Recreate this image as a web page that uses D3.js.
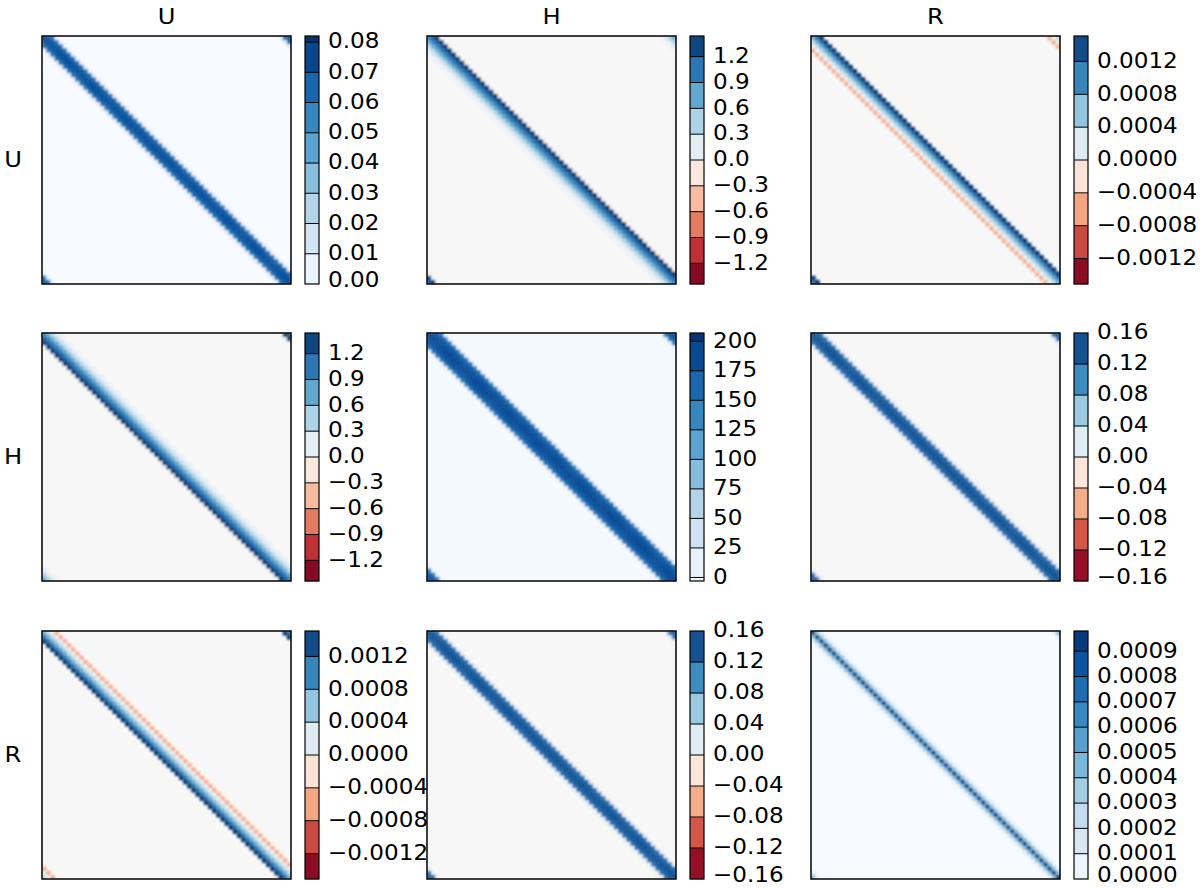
<!DOCTYPE html>
<html>
<head>
<meta charset="utf-8">
<script src="https://cdn.jsdelivr.net/npm/d3@7"></script>
<style>
  body { margin: 0; background: #fff; }
  text { font-family: "DejaVu Sans", sans-serif; fill: #000; }
</style>
</head>
<body>
<svg id="chart" width="1200" height="888"></svg>
<script>
// state variables and matrix size (periodic grid)
var names = ["U", "H", "R"];
var n = 60;

// band profiles: value at offset d = col - row
var offsets = [-4, -3, -2, -1, 0, 1, 2, 3, 4];
var uuBand = [0, 0.006, 0.062, 0.068, 0.073, 0.068, 0.062, 0.006, 0];
var uhBand = [0.05, 0.18, 0.42, 0.72, 0.98, 1.2, 1.42, 0.02, 0];
var urBand = [0, -0.00055, 0.00008, 0.0004, 0.00075, 0.00112, 0.00148, 0, 0];
var huBand = [0, 0.02, 1.42, 1.2, 0.98, 0.72, 0.42, 0.18, 0.05];
var hhBand = [6, 150, 172, 180, 186, 180, 172, 150, 6];
var hrBand = [0, 0.01, 0.12, 0.133, 0.14, 0.133, 0.12, 0.01, 0];
var ruBand = [0, 0, 0.00148, 0.00112, 0.00075, 0.0004, 0.00008, -0.00055, 0];
var rhBand = [0, 0.01, 0.12, 0.133, 0.14, 0.133, 0.12, 0.01, 0];
var rrBand = [0, 0, 0.00008, 0.0004, 0.00092, 0.0004, 0.00008, 0, 0];

// colour limits
var uuRange = [0, 0.082];
var uhRange = [-1.44, 1.44];
var urRange = [-0.00151, 0.00151];
var hhRange = [-3, 207];
var hrRange = [-0.16, 0.16];
var rrRange = [0, 0.00098];

// colorbar ticks
var uuTicks = [0, 0.01, 0.02, 0.03, 0.04, 0.05, 0.06, 0.07, 0.08];
var uhTicks = [-1.2, -0.9, -0.6, -0.3, 0, 0.3, 0.6, 0.9, 1.2];
var urTicks = [-0.0012, -0.0008, -0.0004, 0, 0.0004, 0.0008, 0.0012];
var hhTicks = [0, 25, 50, 75, 100, 125, 150, 175, 200];
var hrTicks = [-0.16, -0.12, -0.08, -0.04, 0, 0.04, 0.08, 0.12, 0.16];
var rrTicks = [0, 0.0001, 0.0002, 0.0003, 0.0004, 0.0005, 0.0006, 0.0007, 0.0008, 0.0009];

// matplotlib style colormaps (linear between the brewer colours)
var blues = d3.piecewise(d3.interpolateRgb, ["#f7fbff", "#deebf7", "#c6dbef", "#9ecae1",
  "#6baed6", "#4292c6", "#2171b5", "#08519c", "#08306b"]);
var rdbu = d3.piecewise(d3.interpolateRgb, ["#67001f", "#b2182b", "#d6604d", "#f4a582",
  "#fddbc7", "#f7f7f7", "#d1e5f0", "#92c5de", "#4393c3", "#2166ac", "#053061"]);

var panels = [
  [
    {band: uuBand, range: uuRange, ticks: uuTicks, fmt: ".2f", cmap: blues},
    {band: uhBand, range: uhRange, ticks: uhTicks, fmt: ".1f", cmap: rdbu},
    {band: urBand, range: urRange, ticks: urTicks, fmt: ".4f", cmap: rdbu}
  ],
  [
    {band: huBand, range: uhRange, ticks: uhTicks, fmt: ".1f", cmap: rdbu},
    {band: hhBand, range: hhRange, ticks: hhTicks, fmt: "d", cmap: blues},
    {band: hrBand, range: hrRange, ticks: hrTicks, fmt: ".2f", cmap: rdbu}
  ],
  [
    {band: ruBand, range: urRange, ticks: urTicks, fmt: ".4f", cmap: rdbu},
    {band: rhBand, range: hrRange, ticks: hrTicks, fmt: ".2f", cmap: rdbu},
    {band: rrBand, range: rrRange, ticks: rrTicks, fmt: ".4f", cmap: blues}
  ]
];

var svg = d3.select("#chart");
var colX = [42, 427, 811];
var rowY = [36, 333, 631];
var boxW = 249, boxH = 248;
var cbW = 14, cbGap = 14;
var sx = 1.1; // text looks a bit wide in the reference

var defs = svg.append("defs");
defs.append("filter").attr("id", "soft")
  .attr("x", "-5%").attr("y", "-5%").attr("width", "110%").attr("height", "110%")
  .append("feGaussianBlur").attr("stdDeviation", 0.9);

// matrix cells from a band profile, wrapped for the periodic grid
function cells(band) {
  var out = [];
  for (var i = 0; i < n; i++) {
    for (var j = 0; j < n; j++) {
      var d = ((j - i + n / 2) % n + n) % n - n / 2;
      var k = offsets.indexOf(d);
      out.push({row: i, col: j, v: k < 0 ? 0 : band[k]});
    }
  }
  return out;
}

function label(g, x, y, str, anchor, size) {
  g.append("text")
    .attr("transform", "translate(" + x + "," + y + ") scale(" + sx + ",1)")
    .attr("text-anchor", anchor)
    .attr("dy", "0.3em")
    .style("font-size", size + "px")
    .text(str);
}

names.forEach(function(name, c) {
  label(svg, colX[c] + boxW / 2, 17, name, "middle", 22);
});
names.forEach(function(name, r) {
  label(svg, 13, rowY[r] + boxH / 2, name, "middle", 22);
});

panels.forEach(function(row, r) {
  row.forEach(function(p, c) {
    var bx = colX[c], by = rowY[r];
    var g = svg.append("g");
    var clipId = "clip" + r + c;

    defs.append("clipPath").attr("id", clipId)
      .append("rect").attr("x", bx).attr("y", by).attr("width", boxW).attr("height", boxH);

    var x = d3.scaleBand().domain(d3.range(n)).range([bx, bx + boxW]);
    var y = d3.scaleBand().domain(d3.range(n)).range([by, by + boxH]);
    var norm = d3.scaleLinear().domain(p.range).range([0, 1]).clamp(true);
    var color = function(v) { return p.cmap(norm(v)); };

    g.append("rect")
      .attr("x", bx).attr("y", by).attr("width", boxW).attr("height", boxH)
      .attr("fill", color(0));

    g.append("g")
      .attr("clip-path", "url(#" + clipId + ")")
      .append("g")
      .attr("filter", "url(#soft)")
      .selectAll("rect")
      .data(cells(p.band).filter(function(d) { return d.v !== 0; }))
      .enter().append("rect")
      .attr("x", function(d) { return x(d.col); })
      .attr("y", function(d) { return y(d.row); })
      .attr("width", x.bandwidth() + 0.4)
      .attr("height", y.bandwidth() + 0.4)
      .attr("fill", function(d) { return color(d.v); });

    g.append("rect")
      .attr("x", bx).attr("y", by).attr("width", boxW).attr("height", boxH)
      .attr("fill", "none").attr("stroke", "#000").attr("stroke-width", 1.5);

    // colorbar with discrete bands split at the ticks
    var cx = bx + boxW + cbGap;
    var cy = d3.scaleLinear().domain(p.range).range([by + boxH, by]);
    var inner = p.ticks.filter(function(t) { return t > p.range[0] && t < p.range[1]; });
    var edges = [p.range[0]].concat(inner, [p.range[1]]);
    var bands = d3.pairs(edges);

    g.selectAll("rect.cb")
      .data(bands)
      .enter().append("rect")
      .attr("class", "cb")
      .attr("x", cx)
      .attr("y", function(d) { return cy(d[1]); })
      .attr("width", cbW)
      .attr("height", function(d) { return cy(d[0]) - cy(d[1]) + 0.3; })
      .attr("fill", function(d) { return color((d[0] + d[1]) / 2); });

    g.selectAll("line.div")
      .data(inner)
      .enter().append("line")
      .attr("x1", cx).attr("x2", cx + cbW)
      .attr("y1", function(d) { return cy(d); })
      .attr("y2", function(d) { return cy(d); })
      .attr("stroke", "#000").attr("stroke-width", 1);

    g.append("rect")
      .attr("x", cx).attr("y", by).attr("width", cbW).attr("height", boxH)
      .attr("fill", "none").attr("stroke", "#000").attr("stroke-width", 1.2);

    var f = d3.format(p.fmt);
    p.ticks.forEach(function(t) {
      var ty = Math.min(cy(t), by + boxH - 3);
      label(g, cx + cbW + 9, ty, f(t), "start", 21);
    });
  });
});
</script>
</body>
</html>
